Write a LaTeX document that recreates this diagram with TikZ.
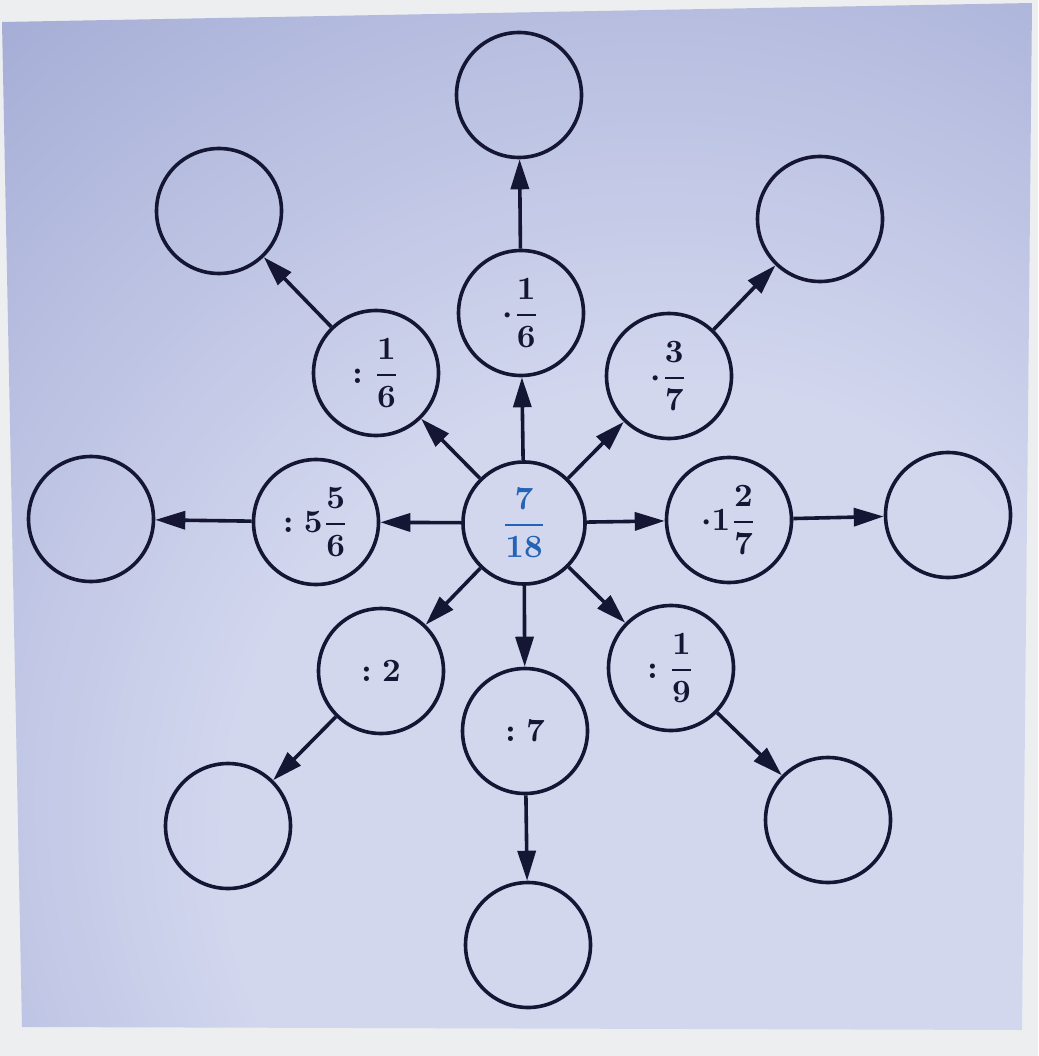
\documentclass[tikz,border=0pt]{standalone}
\usepackage{amsmath}
\usetikzlibrary{arrows.meta}
\definecolor{ink}{RGB}{20,22,52}
\definecolor{bluenum}{RGB}{36,100,182}
\definecolor{bglight}{RGB}{210,215,238}
\definecolor{bgdark}{RGB}{118,130,190}
\definecolor{paper}{RGB}{236,238,240}
\pgfdeclareradialshading{bgshade}{\pgfpoint{10bp}{-20bp}}{color(0bp)=(bglight); color(22bp)=(bglight); color(72bp)=(bgdark); color(100bp)=(bgdark)}
\newcommand{\lbl}[1]{\scalebox{3.25}{\boldmath$#1$}}
\newcommand{\dfr}[2]{\genfrac{}{}{0.8pt}{0}{#1}{#2}}
\tikzset{
  bub/.style={circle, draw=ink, line width=3.6pt, minimum size=125pt, inner sep=0pt, text=ink},
  cbub/.style={bub, minimum size=122pt, text=bluenum},
  arr/.style={draw=ink, line width=3.6pt, -{Triangle[length=30pt,width=18pt]}}
}
\begin{document}
\begin{tikzpicture}[x=1pt,y=-1pt]
\useasboundingbox (0,0) rectangle (1038,1056);
\fill[paper] (0,0) rectangle (1038,1056);
\shade[shading=bgshade] (2,22) -- (1032,3) -- (1022,1030) -- (22,1027) -- cycle;

\node[cbub] (c) at (524,523) {\lbl{\dfr{7}{18}}};

\node[bub] (m1) at (521,313) {\lbl{\cdot\dfr{1}{6}}};
\node[bub] (m2) at (376,373) {\lbl{:\dfr{1}{6}}};
\node[bub] (m3) at (669,376) {\lbl{\cdot\dfr{3}{7}}};
\node[bub] (m4) at (316,522) {\lbl{:5\dfr{5}{6}}};
\node[bub] (m5) at (729,520) {\lbl{\cdot1\dfr{2}{7}}};
\node[bub] (m6) at (381,671) {\lbl{:2}};
\node[bub] (m7) at (525,731) {\lbl{:7}};
\node[bub] (m8) at (671,668) {\lbl{:\dfr{1}{9}}};

\node[bub] (o1) at (519,95) {};
\node[bub] (o2) at (219,211) {};
\node[bub] (o3) at (820,219) {};
\node[bub] (o4) at (91,519) {};
\node[bub] (o5) at (948,515) {};
\node[bub] (o6) at (228,826) {};
\node[bub] (o7) at (528,945) {};
\node[bub] (o8) at (828,820) {};

\foreach \i in {1,...,8}{
  \draw[arr] (c) -- (m\i);
  \draw[arr] (m\i) -- (o\i);
}
\end{tikzpicture}
\end{document}
